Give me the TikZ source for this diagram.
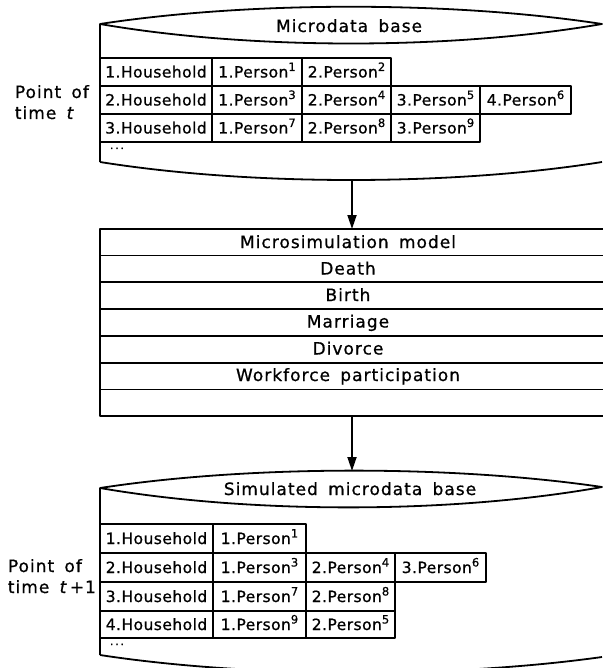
\documentclass[tikz,border=0pt]{standalone}
\usepackage{fontspec}
\setmainfont{DejaVu Sans}
\newfontfamily\cellfont{DejaVu Sans}[LetterSpace=3,FakeBold=0.8]
\newfontfamily\headfont{DejaVu Sans}[LetterSpace=6,WordSpace=1.6,FakeBold=0.8]
\usetikzlibrary{arrows.meta}
\newcommand\personcell[2]{#1.Person\raisebox{0.42em}{\fontsize{11.5}{12}\selectfont #2}}

\begin{document}
\begin{tikzpicture}[x=1pt,y=-1pt,
  line width=1.8pt, line join=round,
  cell/.style={draw, line width=1.6pt, inner sep=0pt, minimum height=28pt,
    text height=11pt, text depth=0pt,
    font=\cellfont\fontsize{15.5}{17}\selectfont},
  head/.style={anchor=base, inner sep=0pt, font=\headfont\fontsize{17}{19}\selectfont},
  side/.style={anchor=base west, inner sep=0pt, font=\headfont\fontsize{17}{19}\selectfont},
  dots/.style={anchor=base west, inner sep=0pt, font=\cellfont\fontsize{11}{13}\selectfont},
  flow/.style={-{Triangle[length=14pt,width=9pt]}, line width=1.8pt}
]
\useasboundingbox (0,0) rectangle (602,668);

% ---------- microdata base at time t ----------
\draw (100,24) .. controls (250,1) and (452,1) .. (602,24)
      .. controls (452,50) and (250,50) .. (100,24) -- cycle;
\draw (100,24) -- (100,162);
\draw (100,162) .. controls (250,186) and (452,186) .. (602,162);
\node[head] (dbA) at (349,32) {Microdata base};

\node[cell, minimum width=112pt] (a11) at (156,72)   {1.Household};
\node[cell, minimum width=90pt]  (a12) at (257,72)   {\personcell{1}{1}};
\node[cell, minimum width=89pt]  (a13) at (346.5,72) {\personcell{2}{2}};

\node[cell, minimum width=112pt] (a21) at (156,100)   {2.Household};
\node[cell, minimum width=90pt]  (a22) at (257,100)   {\personcell{1}{3}};
\node[cell, minimum width=89pt]  (a23) at (346.5,100) {\personcell{2}{4}};
\node[cell, minimum width=89pt]  (a24) at (435.5,100) {\personcell{3}{5}};
\node[cell, minimum width=91pt]  (a25) at (525.5,100) {\personcell{4}{6}};

\node[cell, minimum width=112pt] (a31) at (156,128)   {3.Household};
\node[cell, minimum width=90pt]  (a32) at (257,128)   {\personcell{1}{7}};
\node[cell, minimum width=89pt]  (a33) at (346.5,128) {\personcell{2}{8}};
\node[cell, minimum width=89pt]  (a34) at (435.5,128) {\personcell{3}{9}};

\node[dots] (adots) at (109,149) {.\,.\,.};

\node[side] (ptA1) at (14,98)  {Point of};
\node[side] (ptA2) at (14,119) {time \textit{t}};

\coordinate (dbAbot) at (352,180);

% ---------- microsimulation model ----------
\draw (100,229) rectangle (610,416);
\foreach \yy in {255.5,282,309,336,363,389.5}
  \draw (100,\yy) -- (610,\yy);
\coordinate (modeltop) at (352,229);
\coordinate (modelbot) at (352,416);
\node[head] (m0) at (348,248)   {Microsimulation model};
\node[head] (m1) at (348,274.5) {Death};
\node[head] (m2) at (348,301)   {Birth};
\node[head] (m3) at (348,327.5) {Marriage};
\node[head] (m4) at (348,354.5) {Divorce};
\node[head] (m5) at (348,381)   {Workforce participation};

% ---------- simulated microdata base at time t+1 ----------
\draw (100,488) .. controls (250,465) and (452,465) .. (602,487)
      .. controls (452,514) and (250,514) .. (100,488) -- cycle;
\draw (100,488) -- (100,655);
\draw (100,655) .. controls (250,678) and (452,678) .. (602,657);
\node[head] (dbB) at (350,495) {Simulated microdata base};
\coordinate (dbBtop) at (352,471);

\node[cell, minimum width=113pt, minimum height=29pt] (b11) at (156.5,538.5) {1.Household};
\node[cell, minimum width=93pt,  minimum height=29pt] (b12) at (259.5,538.5) {\personcell{1}{1}};

\node[cell, minimum width=113pt, minimum height=29pt] (b21) at (156.5,567.5) {2.Household};
\node[cell, minimum width=93pt,  minimum height=29pt] (b22) at (259.5,567.5) {\personcell{1}{3}};
\node[cell, minimum width=89pt,  minimum height=29pt] (b23) at (350.5,567.5) {\personcell{2}{4}};
\node[cell, minimum width=91pt,  minimum height=29pt] (b24) at (440.5,567.5) {\personcell{3}{6}};

\node[cell, minimum width=113pt, minimum height=29pt] (b31) at (156.5,596.5) {3.Household};
\node[cell, minimum width=93pt,  minimum height=29pt] (b32) at (259.5,596.5) {\personcell{1}{7}};
\node[cell, minimum width=89pt,  minimum height=29pt] (b33) at (350.5,596.5) {\personcell{2}{8}};

\node[cell, minimum width=113pt, minimum height=27pt] (b41) at (156.5,624.5) {4.Household};
\node[cell, minimum width=93pt,  minimum height=27pt] (b42) at (259.5,624.5) {\personcell{1}{9}};
\node[cell, minimum width=89pt,  minimum height=27pt] (b43) at (350.5,624.5) {\personcell{2}{5}};

\node[dots] (bdots) at (109,645) {.\,.\,.};

\node[side] (ptB1) at (7,572) {Point of};
\node[side] (ptB2) at (7,593) {time \textit{t}\kern2pt+\kern1pt1};

% ---------- flow ----------
\draw[flow] (dbAbot) -- (modeltop);
\draw[flow] (modelbot) -- (dbBtop);
\end{tikzpicture}
\end{document}
